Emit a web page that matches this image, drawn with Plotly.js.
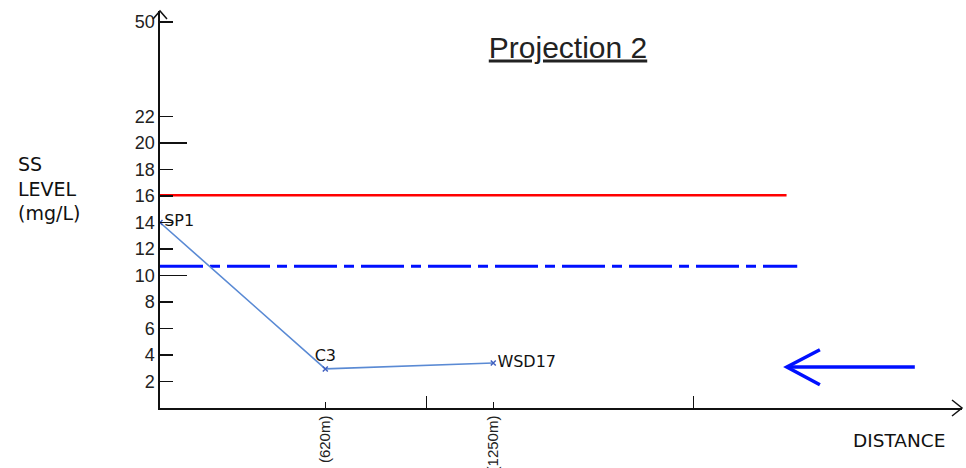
<!DOCTYPE html>
<html>
<head>
<meta charset="utf-8">
<script src="https://cdn.plot.ly/plotly-3.0.1.min.js"></script>
<style>html,body{margin:0;padding:0;background:#fff;}#chart{width:966px;height:468px;}</style>
</head>
<body>
<div id="chart"></div>
<script>
// ---- data ----
const stations = ["SP1", "C3", "WSD17"];
const distances = [0, 620, 1250];            // metres
const ssLevels = [14, 2.95, 3.4];            // mg/L
const redLimit = 16.05;
const blueLimit = 10.7;
const limitExtentRed = [0, 2350];
const limitExtentBlue = [0, 2390];
const yTickVals = [2, 4, 6, 8, 10, 12, 14, 16, 18, 20, 22, 29.13];
const yTickText = ["2", "4", "6", "8", "10", "12", "14", "16", "18", "20", "22", "50"];
const yLongTicks = [10, 20];
const xTickVals = [620, 1250];
const xTickText = ["(620m)", "(1250m)"];
const xLongTicks = [1000, 2000];

const tickFont = {family: "Liberation Sans Narrow, Liberation Sans, Arial, sans-serif", size: 18, color: "#222"};
const xTickFont = {family: "Liberation Sans Narrow, Liberation Sans, Arial, sans-serif", size: 15, color: "#222"};
const cadFont = {family: "DejaVu Sans, sans-serif", size: 16, color: "#111"};

const traces = [
  {x: limitExtentRed, y: [redLimit, redLimit], mode: "lines",
   line: {color: "#ff0000", width: 2.5}, hoverinfo: "skip", showlegend: false},
  {x: limitExtentBlue, y: [blueLimit, blueLimit], mode: "lines",
   line: {color: "#0010ff", width: 3, dash: "43px,7px,10px,7px"}, hoverinfo: "skip", showlegend: false},
  {x: distances, y: ssLevels, text: stations, mode: "lines+markers+text",
   textposition: ["middle right", "top center", "middle right"],
   textfont: cadFont,
   line: {color: "#5a8ad4", width: 1.6},
   marker: {symbol: "x-thin", size: 5, line: {color: "#4060c0", width: 1.5}, color: "#4060c0"},
   showlegend: false},
  {x: [0], y: [0], xaxis: "x2", yaxis: "y2", mode: "markers", marker: {opacity: 0}, hoverinfo: "skip", showlegend: false}
];

const W = 802, H = 397;
const layout = {
  width: 966, height: 468,
  margin: {l: 160, r: 4, t: 11, b: 60},
  paper_bgcolor: "#fff", plot_bgcolor: "#fff",
  showlegend: false,
  title: {text: "<u>Projection 2</u>", x: 568/966, xref: "container", xanchor: "center",
          y: 1 - 47/468, yref: "container", yanchor: "middle",
          font: {family: "Liberation Sans, Arial, sans-serif", size: 30, color: "#222"}},
  xaxis: {range: [0, 3008], showgrid: false, zeroline: false, showline: true,
          linecolor: "#111", linewidth: 1.6,
          tickmode: "array", tickvals: xTickVals, ticktext: xTickText,
          ticks: "inside", ticklen: 6, tickwidth: 1.2, tickcolor: "#111",
          tickangle: -90, tickfont: xTickFont},
  yaxis: {range: [0, 29.96], showgrid: false, zeroline: false, showline: true,
          linecolor: "#111", linewidth: 1.6,
          tickmode: "array", tickvals: yTickVals, ticktext: yTickText,
          ticks: "inside", ticklen: 13, tickwidth: 1.4, tickcolor: "#111",
          tickfont: tickFont},
  xaxis2: {overlaying: "x", anchor: "y", range: [0, 3008], showgrid: false, zeroline: false,
           showline: false, tickmode: "array", tickvals: xLongTicks, ticks: "inside",
           ticklen: 12, tickwidth: 1.2, tickcolor: "#111", showticklabels: false},
  yaxis2: {overlaying: "y", anchor: "x", range: [0, 29.96], showgrid: false, zeroline: false,
           showline: false, tickmode: "array", tickvals: yLongTicks, ticks: "inside",
           ticklen: 27, tickwidth: 1.4, tickcolor: "#111", showticklabels: false},
  annotations: [
    {text: "SS<br>LEVEL<br>(mg/L)", xref: "paper", yref: "paper", x: (16-160)/W, y: (408-188)/H,
     xanchor: "left", yanchor: "middle", align: "left", showarrow: false,
     font: {family: "DejaVu Sans, sans-serif", size: 19, color: "#111"}},
    {text: "DISTANCE", xref: "paper", yref: "paper", x: (947-160)/W, y: (408-440)/H,
     xanchor: "right", yanchor: "middle", showarrow: false,
     font: {family: "DejaVu Sans, sans-serif", size: 18.5, color: "#111"}}
  ],
  shapes: [
    {type: "path", xref: "paper", yref: "paper",
     path: `M ${-7/W} ${1-8/H} L 0 1 L ${7/W} ${1-8/H}`,
     line: {color: "#111", width: 1.5}},
    {type: "path", xref: "paper", yref: "paper",
     path: `M ${1-10/W} ${8/H} L 1 0 L ${1-10/W} ${-8/H}`,
     line: {color: "#111", width: 1.5}},
    {type: "line", xref: "x", yref: "y", x0: 2831, x1: 2353, y0: 3.1, y1: 3.1,
     line: {color: "#0010ff", width: 3.5}},
    {type: "path", xref: "x", yref: "y", path: "M 2475 4.4 L 2351 3.1 L 2475 1.75",
     line: {color: "#0010ff", width: 3.5}}
  ]
};

Plotly.newPlot("chart", traces, layout, {displayModeBar: false, staticPlot: true});
</script>
</body>
</html>
